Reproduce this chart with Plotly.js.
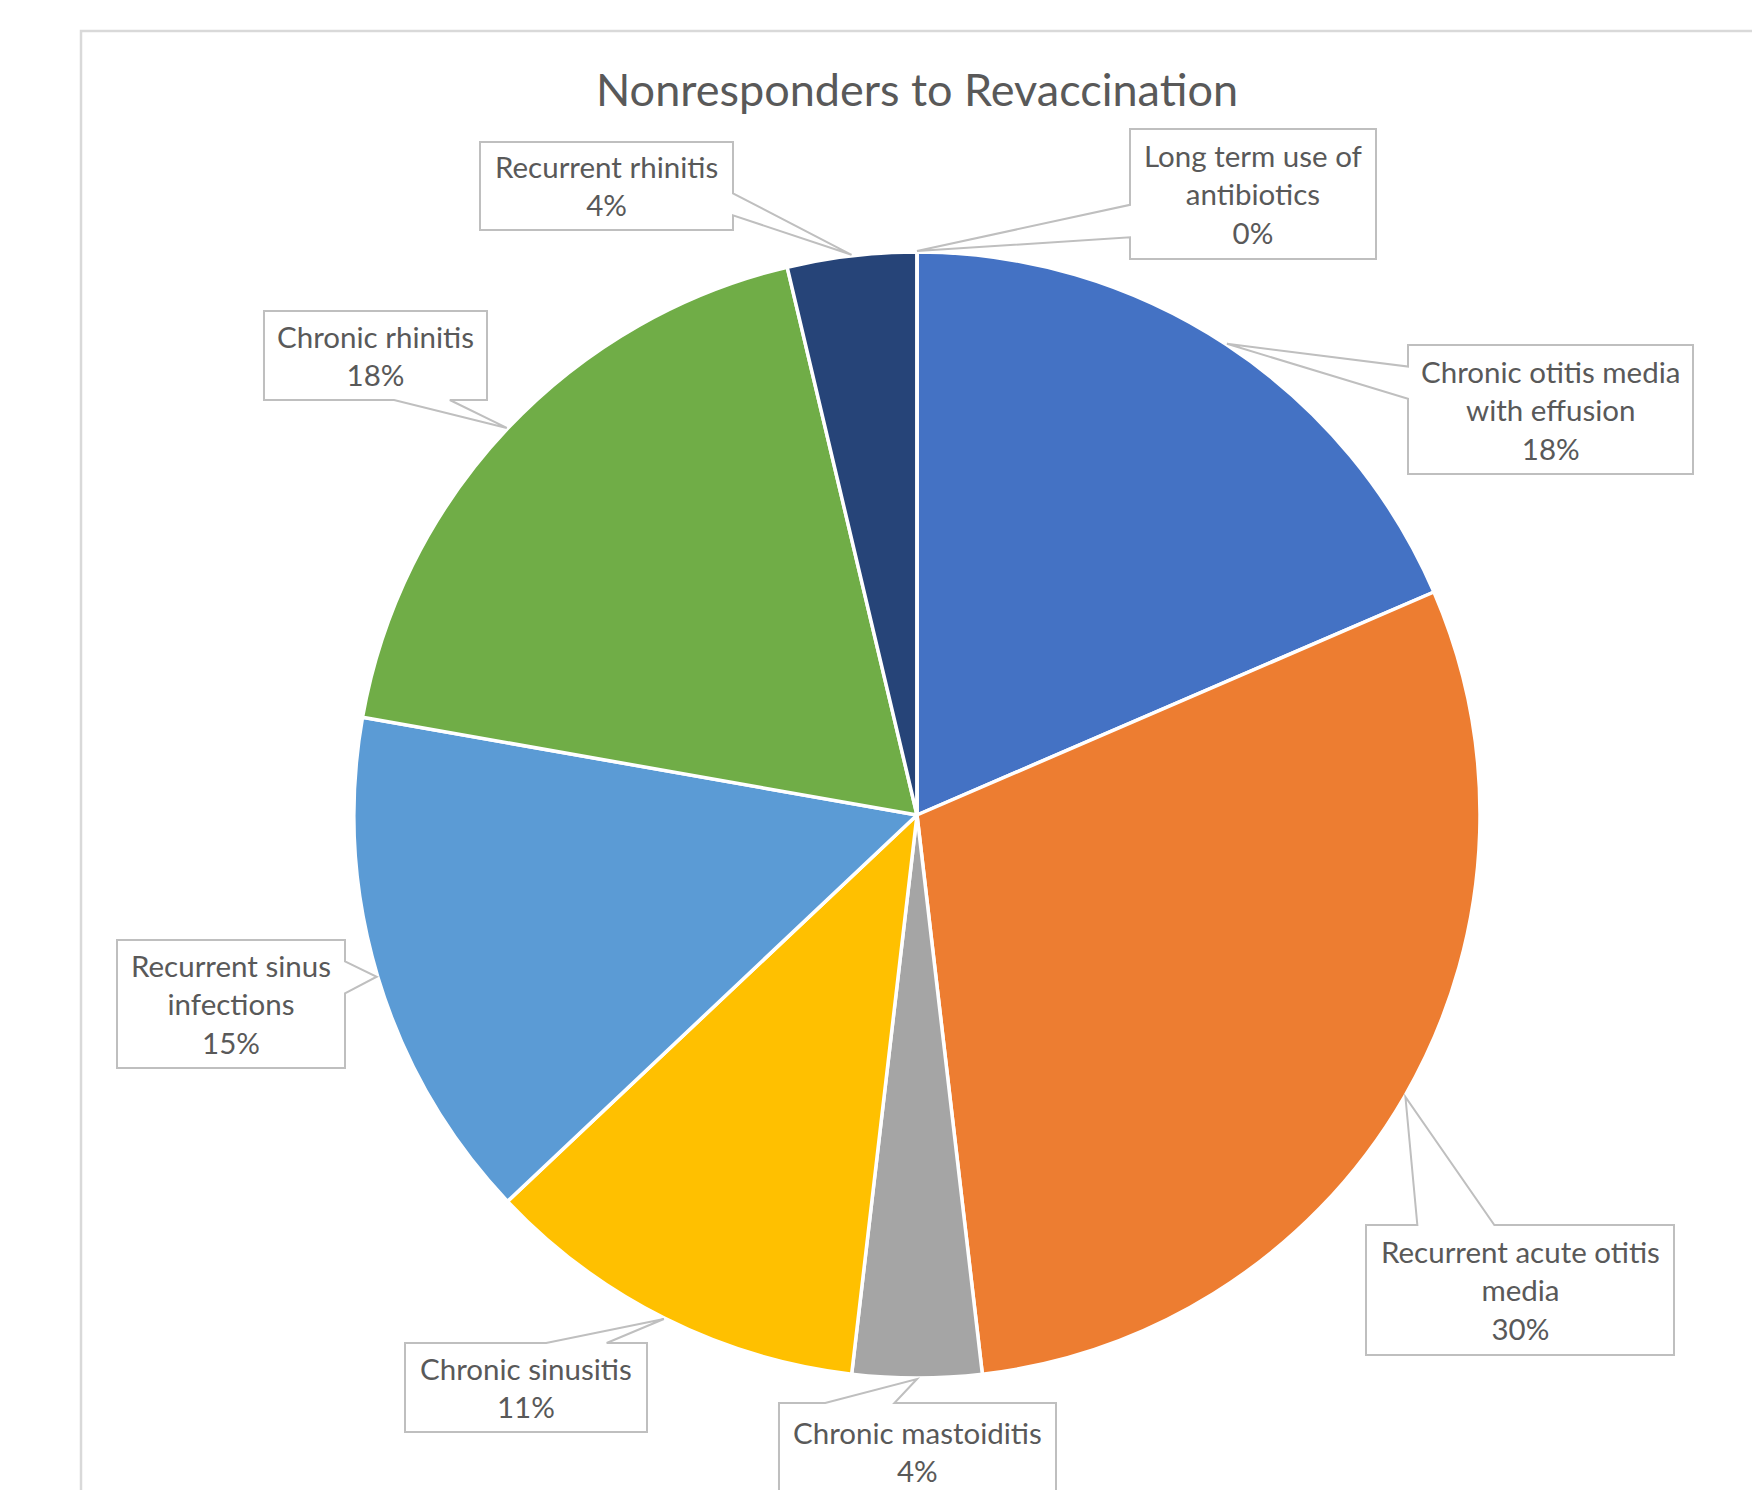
<!DOCTYPE html>
<html>
<head>
<meta charset="utf-8">
<script src="https://cdn.plot.ly/plotly-3.0.1.min.js"></script>
<style>
  html, body { margin: 0; padding: 0; background: #ffffff; }
  #chart { width: 1752px; height: 1490px; }
</style>
</head>
<body>
<div id="chart"></div>
<script>
// ---------------- DATA ----------------
const chartTitle = "Nonresponders to Revaccination";
const categories = [
  "Chronic otitis media with effusion",
  "Recurrent acute otitis media",
  "Chronic mastoiditis",
  "Chronic sinusitis",
  "Recurrent sinus infections",
  "Chronic rhinitis",
  "Recurrent rhinitis",
  "Long term use of antibiotics"
];
// label text as wrapped in the chart
const wrappedNames = [
  "Chronic otitis media<br>with effusion",
  "Recurrent acute otitis<br>media",
  "Chronic mastoiditis",
  "Chronic sinusitis",
  "Recurrent sinus<br>infections",
  "Chronic rhinitis",
  "Recurrent rhinitis",
  "Long term use of<br>antibiotics"
];
// patient counts (slice sizes)
const counts = [5, 8, 1, 3, 4, 5, 1, 0];
// percentages as printed on the data labels
const shownPercents = [18, 30, 4, 11, 15, 18, 4, 0];
const sliceColors = ["#4472C4", "#ED7D31", "#A5A5A5", "#FFC000", "#5B9BD5", "#70AD47", "#264478", "#9E480E"];

// ---------------- LAYOUT GEOMETRY (pixels) ----------------
const W = 1752, H = 1490;
const pieCx = 917, pieCy = 815, pieR = 563;
// callout boxes [left, top, right, bottom]
const labelBoxes = [
  [1408, 345, 1693, 474],
  [1366, 1225, 1674, 1355],
  [779, 1403, 1056, 1500],
  [405, 1343, 647, 1432],
  [117, 940, 345, 1068],
  [264, 311, 487, 400],
  [480, 142, 733, 230],
  [1130, 129, 1376, 259]
];
const textColor = "#595959";
const fontFamily = "Lato, 'Open Sans', 'Noto Sans', sans-serif";

const px = x => x / W;
const py = y => 1 - y / H;

// ---------------- CALLOUTS ----------------
const total = counts.reduce((a, b) => a + b, 0);
let cum = 0;
const shapes = [];
const annotations = [];

// outer chart frame
shapes.push({
  type: "rect", xref: "paper", yref: "paper",
  x0: px(81), x1: px(W + 20), y0: py(H + 20), y1: py(31),
  line: { color: "#d9d9d9", width: 2.5 }, fillcolor: "rgba(0,0,0,0)", layer: "below"
});

counts.forEach((v, i) => {
  const mid = (cum + v / 2) / total * 2 * Math.PI;
  cum += v;
  const tx = pieCx + (pieR + 1) * Math.sin(mid);
  const ty = pieCy - (pieR + 1) * Math.cos(mid);
  const [l, t, r, b] = labelBoxes[i];
  const w = r - l, h = b - t;
  const hc = l + w / 2, vc = t + h / 2;
  const dxPos = tx - hc, dyPos = ty - vc;
  const dq = Math.abs(dxPos * h) - Math.abs(dyPos * w);
  const x1 = l + w * (dxPos > 0 ? 7 : 2) / 12, x2 = l + w * (dxPos > 0 ? 10 : 5) / 12;
  const y1 = t + h * (dyPos > 0 ? 7 : 2) / 12, y2 = t + h * (dyPos > 0 ? 10 : 5) / 12;
  const pts = [[l, t]];
  if (dq <= 0 && dyPos < 0) pts.push([x1, t], [tx, ty], [x2, t]);
  pts.push([r, t]);
  if (dq > 0 && dxPos > 0) pts.push([r, y1], [tx, ty], [r, y2]);
  pts.push([r, b]);
  if (dq <= 0 && dyPos > 0) pts.push([x2, b], [tx, ty], [x1, b]);
  pts.push([l, b]);
  if (dq > 0 && dxPos < 0) pts.push([l, y2], [tx, ty], [l, y1]);
  const path = pts.map((p, k) => (k === 0 ? "M" : "L") + px(p[0]).toFixed(5) + "," + py(p[1]).toFixed(5)).join(" ") + " Z";
  shapes.push({
    type: "path", xref: "paper", yref: "paper", path: path,
    line: { color: "#bfbfbf", width: 2 }, fillcolor: "#ffffff", layer: "above"
  });
  annotations.push({
    xref: "paper", yref: "paper", x: px(hc), y: py(vc),
    xanchor: "center", yanchor: "middle", showarrow: false,
    text: wrappedNames[i] + "<br>" + shownPercents[i] + "%",
    font: { family: fontFamily, size: 29.5, color: textColor }, align: "center"
  });
});

// ---------------- PIE ----------------
const trace = {
  type: "pie",
  labels: categories,
  values: counts,
  sort: false,
  direction: "clockwise",
  rotation: 0,
  textinfo: "none",
  hoverinfo: "none",
  showlegend: false,
  marker: { colors: sliceColors, line: { color: "#ffffff", width: 3.5 } },
  domain: {
    x: [px(pieCx - pieR), px(pieCx + pieR)],
    y: [py(pieCy + pieR), py(pieCy - pieR)]
  }
};

const layout = {
  width: W, height: H,
  margin: { l: 0, r: 0, t: 0, b: 0 },
  paper_bgcolor: "#ffffff",
  plot_bgcolor: "#ffffff",
  showlegend: false,
  title: {
    text: chartTitle,
    font: { family: fontFamily, size: 45, color: textColor },
    x: px(917), xref: "paper", xanchor: "center",
    y: 1 - 90 / H, yref: "container", yanchor: "middle"
  },
  shapes: shapes,
  annotations: annotations
};

Plotly.newPlot("chart", [trace], layout, { staticPlot: true, displayModeBar: false });
</script>
</body>
</html>
